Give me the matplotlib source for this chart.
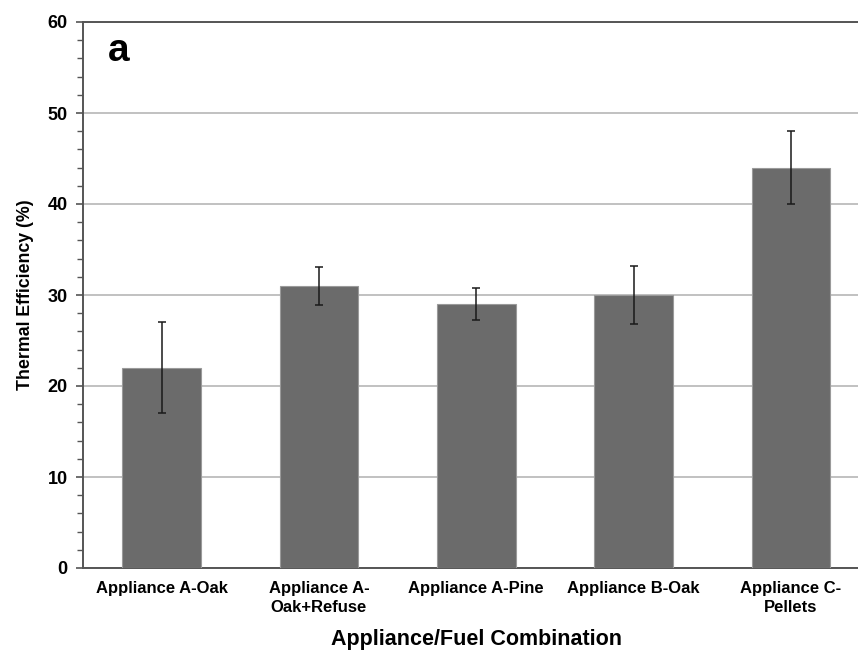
import matplotlib.pyplot as plt
from matplotlib.ticker import MultipleLocator

plt.rcParams['font.family'] = ['Liberation Sans', 'DejaVu Sans']

categories = ["Appliance A-Oak", "Appliance A-\nOak+Refuse", "Appliance A-Pine",
              "Appliance B-Oak", "Appliance C-\nPellets"]
efficiency = [22, 31, 29, 30, 44]
err = [5, 2.1, 1.8, 3.2, 4]

fig = plt.figure(figsize=(8.58, 6.5), dpi=100)
ax = fig.add_axes([83 / 858, 82 / 650, 786.5 / 858, 546 / 650])

x = range(len(categories))
ax.bar(x, efficiency, width=0.5, color="#6b6b6b", edgecolor="#9a9a9a",
       linewidth=0.8, zorder=3)
ax.errorbar(x, efficiency, yerr=err, fmt="none", ecolor="#1a1a1a",
            elinewidth=1.1, capsize=3, capthick=1.1, zorder=4)

ax.set_xlim(-0.5, len(categories) - 0.5)
ax.set_ylim(0, 60)
ax.yaxis.set_major_locator(MultipleLocator(10))
ax.yaxis.set_minor_locator(MultipleLocator(2))
ax.grid(axis="y", color="#b0b0b0", linewidth=1.1, zorder=0)

ax.spines["right"].set_visible(False)
for side in ["left", "bottom", "top"]:
    ax.spines[side].set_color("#555555")
    ax.spines[side].set_linewidth(1.4)

ax.set_xticks(list(x))
ax.set_xticklabels(categories, fontsize=12, fontweight="bold", linespacing=1.4)
ax.tick_params(axis="x", length=0, pad=9)
ax.tick_params(axis="y", which="both", direction="out", color="#555555",
               labelsize=13, pad=6)
ax.tick_params(axis="y", which="major", length=5, width=1.2)
ax.tick_params(axis="y", which="minor", length=4, width=1.0)
for lbl in ax.get_yticklabels():
    lbl.set_fontweight("bold")

ax.set_ylabel("Thermal Efficiency (%)", fontsize=12.8, fontweight="bold", labelpad=10)
ax.set_xlabel("Appliance/Fuel Combination", fontsize=15.5, fontweight="bold", labelpad=10)

ax.text(0.045, 0.98, "a", transform=ax.transAxes, fontsize=28,
        fontweight="bold", va="top", ha="center")

fig.savefig("out.png", dpi=100)
